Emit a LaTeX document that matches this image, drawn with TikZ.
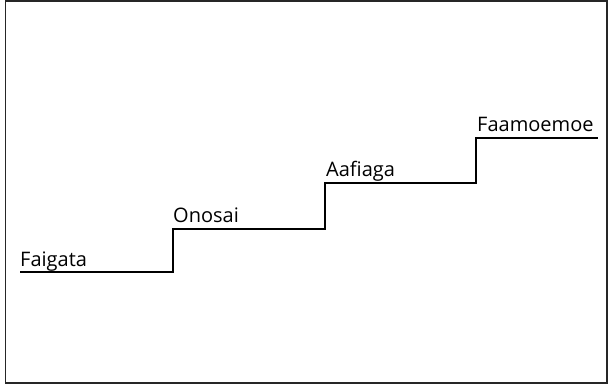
\documentclass[tikz,border=0pt]{standalone}
\usepackage{fontspec}
\setmainfont{Open Sans}
\begin{document}
\begin{tikzpicture}[x=1pt,y=-1pt,
  frame/.style={line width=1.5pt,draw=black!85},
  stair/.style={line width=2.8pt,line join=miter},
  lbl/.style={anchor=base west,inner sep=0pt,font=\fontsize{20}{20}\selectfont}]
\useasboundingbox (0,0) rectangle (608,387);
\draw[frame] (5.5,1) rectangle (607,383);
\coordinate (s0) at (20,272);
\coordinate (c1) at (173,272);
\coordinate (c2) at (173,229);
\coordinate (c3) at (325,229);
\coordinate (c4) at (325,183);
\coordinate (c5) at (476,183);
\coordinate (c6) at (476,138);
\coordinate (e) at (598,138);
\draw[stair] (s0) -- (c1) -- (c2) -- (c3) -- (c4) -- (c5) -- (c6) -- (e);
\node[lbl] (t1) at ([shift={(0,-5)}]s0) {Faigata};
\node[lbl] (t2) at ([shift={(0,-6)}]c2) {Onosai};
\node[lbl] (t3) at ([shift={(1,-6)}]c4) {Aafiaga};
\node[lbl] (t4) at ([shift={(1,-6)}]c6) {Faamoemoe};
\end{tikzpicture}
\end{document}
